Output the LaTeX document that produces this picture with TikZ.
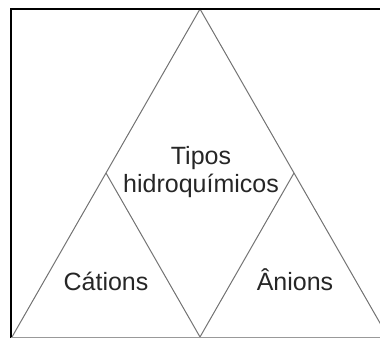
\documentclass[tikz,border=0pt]{standalone}
\usepackage{fontspec}
\setmainfont{Liberation Sans}
\usetikzlibrary{positioning}

\tikzset{
  side/.style={draw=black!55, line width=1pt},
  frameline/.style={line width=2pt},
  label/.style={text=black!85, font=\fontsize{25}{27.6}\selectfont, inner sep=0pt}
}

\begin{document}
\begin{tikzpicture}[x=1pt, y=1pt]
\useasboundingbox (0,0) rectangle (380,338);
\clip (0,0) rectangle (380,338);

% corners of the big triangle and the midpoints of its sides
\coordinate (apex) at (200,329);
\coordinate (baseL) at (12,1);
\coordinate (baseR) at (388,1);
\coordinate (midL) at (106,165);
\coordinate (midR) at (294,165);
\coordinate (midB) at (200,1);

\draw[side] (baseL) -- (apex) -- (baseR);
\draw[side] (midL) -- (midB) -- (midR);

% frame
\draw[frameline] (11,0) -- (11,329) -- (382,329);
\draw[draw=black!40, line width=1.2pt] (11,0.6) -- (382,0.6);

\node[label, align=center] (tipos) at (201,166) {Tipos\\hidroquímicos};
\node[label, anchor=base] (cations) at (106,48) {Cátions};
\node[label, anchor=base] (anions) at (295,48) {Ânions};
\end{tikzpicture}
\end{document}
